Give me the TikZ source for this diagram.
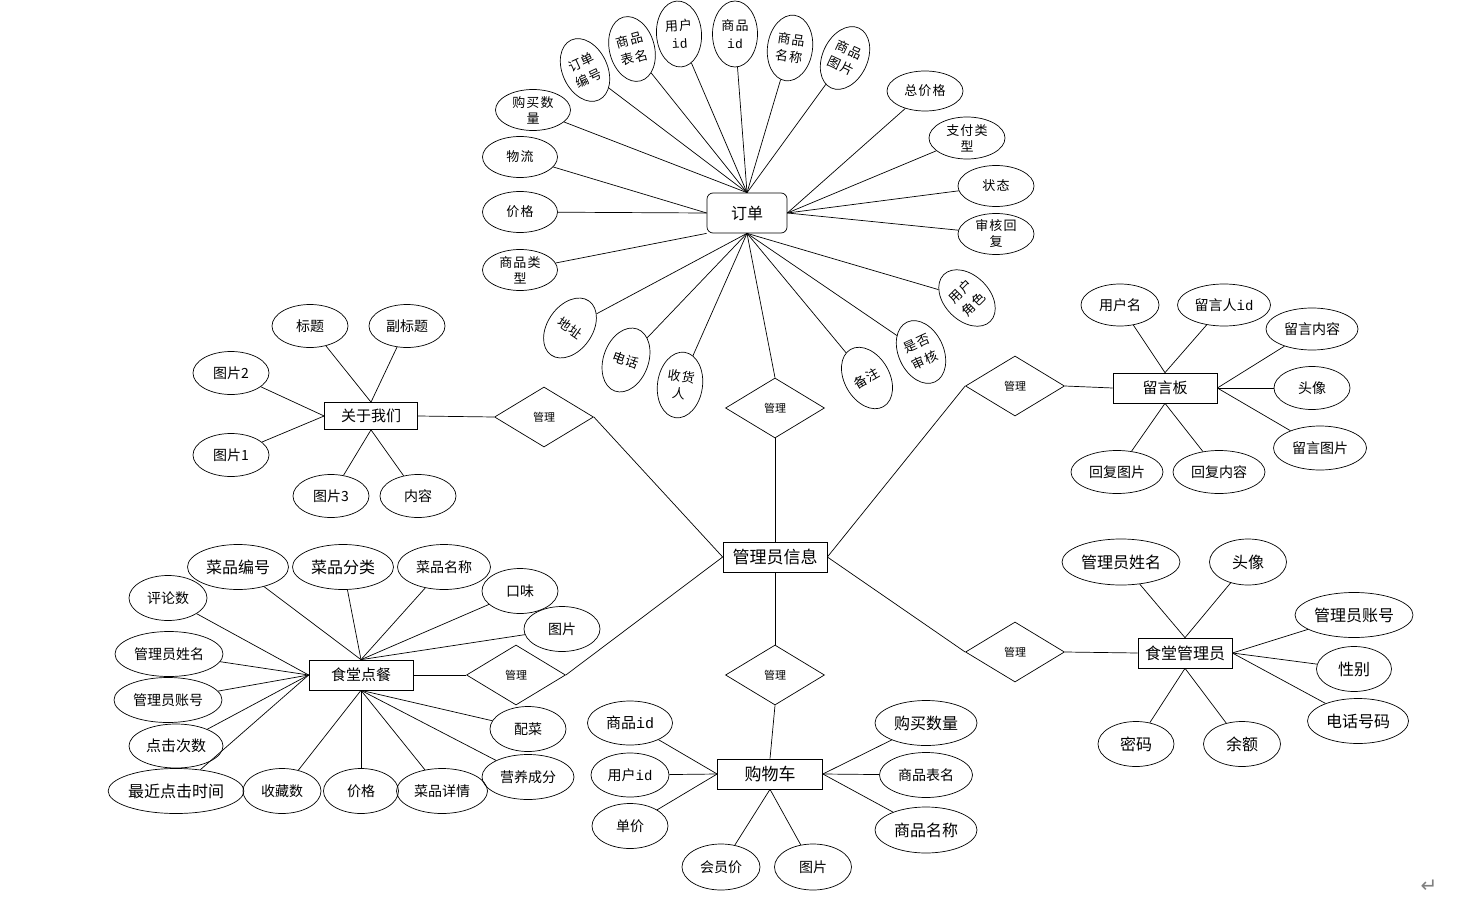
\documentclass[tikz,border=0pt]{standalone}
\usepackage{fontspec}
\setmainfont{Noto Sans CJK SC}
\setmonofont{Liberation Mono}
\newfontfamily\symfont{DejaVu Sans}
\usetikzlibrary{shapes.geometric}
\newcommand{\idtxt}{{\ttfamily id}}
\begin{document}
\begin{tikzpicture}[x=1pt, y=-1pt, line width=0.7pt,
		attr/.style = {ellipse, draw, inner sep=0pt, align=center,
			minimum width=76pt, minimum height=44pt,
			font=\fontsize{14}{16}\selectfont},
		big/.style = {font=\fontsize{16}{18}\selectfont},
		small/.style = {font=\fontsize{13}{16}\selectfont\addfontfeatures{LetterSpace=8}},
		tilt/.style = {attr, small, minimum width=45pt, minimum height=66pt,
			font=\fontsize{13}{18}\selectfont\addfontfeatures{LetterSpace=8}},
		entity/.style = {rectangle, draw, minimum height=30pt,
			font=\fontsize{15}{17}\selectfont},
		rel/.style = {diamond, draw, inner sep=0pt,
			minimum width=99pt, minimum height=60pt,
			font=\fontsize{11}{12}\selectfont}]
	\useasboundingbox (0,0) rectangle (1467,912);

	% entities
	\node[entity, rounded corners=6pt, minimum width=80pt, minimum height=40pt, big] (ord) at (747,213) {订单};
	\node[entity, minimum width=93pt, minimum height=27pt] (about) at (371,416) {关于我们};
	\node[entity, minimum width=104pt] (msg) at (1165,388) {留言板};
	\node[entity, minimum width=104pt, font=\fontsize{17}{19}\selectfont] (adm) at (775,557) {管理员信息};
	\node[entity, minimum width=104pt] (can) at (361,675) {食堂点餐};
	\node[entity, minimum width=105pt, font=\fontsize{17}{19}\selectfont] (cart) at (770,774) {购物车};
	\node[entity, minimum width=94pt, big] (cadm) at (1185,653) {食堂管理员};

	% relations
	\node[rel] (rAbout) at (544,417) {管理};
	\node[rel] (rOrd) at (775,408) {管理};
	\node[rel] (rMsg) at (1015,386) {管理};
	\node[rel] (rCan) at (516,675) {管理};
	\node[rel] (rCart) at (775,675) {管理};
	\node[rel] (rCadm) at (1015,652) {管理};

	% order attributes
	\node[attr, small, minimum width=75pt, minimum height=41pt] (oBuy) at (533,110) {购买数\\量};
	\node[attr, small, minimum width=75pt, minimum height=41pt] (oLogi) at (520,157) {物流};
	\node[attr, small, minimum width=75pt, minimum height=41pt] (oPrice) at (520,212) {价格};
	\node[attr, small, minimum width=75pt, minimum height=41pt] (oType) at (520,270) {商品类\\型};
	\node[tilt, rotate=25] (oNo) at (585,70) {订单\\编号};
	\node[tilt, rotate=15] (oTab) at (632,49) {商品\\表名};
	\node[tilt, rotate=4] (oUid) at (679,34) {用户\\\idtxt};
	\node[tilt] (oGid) at (735,34) {商品\\\idtxt};
	\node[tilt, rotate=-8] (oGname) at (790,48) {商品\\名称};
	\node[tilt, rotate=-25] (oGpic) at (845,58) {商品\\图片};
	\node[attr, small, minimum width=76pt, minimum height=40pt] (oTotal) at (925,91) {总价格};
	\node[attr, small, minimum width=76pt, minimum height=42pt] (oPay) at (967,138) {支付类\\型};
	\node[attr, small, minimum width=76pt, minimum height=41pt] (oState) at (996,186) {状态};
	\node[attr, small, minimum width=76pt, minimum height=41pt] (oAudit) at (996,234) {审核回\\复};
	\node[tilt, rotate=45] (oRole) at (967,298) {用户\\角色};
	\node[tilt, rotate=25] (oRev) at (921,352) {是否\\审核};
	\node[tilt, rotate=30] (oNote) at (867,378) {备注};
	\node[tilt, rotate=-35] (oAddr) at (570,328) {地址};
	\node[tilt, rotate=-20] (oTel) at (626,360) {电话};
	\node[tilt, rotate=-8] (oRecv) at (680,385) {收货\\人};

	% about attributes
	\node[attr, minimum height=43pt] (aTitle) at (310,326) {标题};
	\node[attr, minimum height=43pt] (aSub) at (407,326) {副标题};
	\node[attr, minimum height=43pt] (aPic2) at (231,373) {图片2};
	\node[attr, minimum height=43pt] (aPic1) at (231,455) {图片1};
	\node[attr, minimum height=43pt] (aPic3) at (331,496) {图片3};
	\node[attr, minimum height=43pt] (aText) at (418,496) {内容};

	% message board attributes
	\node[attr, minimum width=78pt, minimum height=42pt] (mUser) at (1120,305) {用户名};
	\node[attr, minimum width=93pt, minimum height=42pt] (mUid) at (1224,305) {留言人\idtxt};
	\node[attr, minimum width=92pt, minimum height=42pt] (mText) at (1312,329) {留言内容};
	\node[attr, minimum height=43pt] (mHead) at (1312,388) {头像};
	\node[attr, minimum width=93pt] (mPic) at (1320,448) {留言图片};
	\node[attr, minimum width=92pt, minimum height=43pt] (mRpic) at (1117,472) {回复图片};
	\node[attr, minimum width=92pt, minimum height=43pt] (mRtext) at (1219,472) {回复内容};

	% canteen ordering attributes
	\node[attr, big, minimum width=101pt, minimum height=45pt] (cNo) at (238,567) {菜品编号};
	\node[attr, big, minimum width=101pt, minimum height=45pt] (cCls) at (343,567) {菜品分类};
	\node[attr, minimum width=93pt, minimum height=45pt] (cName) at (444,567) {菜品名称};
	\node[attr, minimum height=45pt] (cTaste) at (520,591) {口味};
	\node[attr, minimum height=45pt] (cPic) at (562,629) {图片};
	\node[attr, minimum width=78pt, minimum height=45pt] (cCom) at (168,598) {评论数};
	\node[attr, minimum width=108pt, minimum height=45pt] (cAname) at (169,654) {管理员姓名};
	\node[attr, minimum width=108pt, minimum height=45pt] (cAacc) at (168,700) {管理员账号};
	\node[attr, minimum width=94pt, font=\fontsize{15}{17}\selectfont] (cClick) at (176,746) {点击次数};
	\node[attr, big, minimum width=135pt, minimum height=45pt] (cLast) at (176,791) {最近点击时间};
	\node[attr, minimum width=78pt, minimum height=45pt] (cFav) at (282,791) {收藏数};
	\node[attr, minimum width=75pt, minimum height=45pt] (cPrice) at (361,791) {价格};
	\node[attr, minimum width=91pt, minimum height=45pt] (cInfo) at (442,791) {菜品详情};
	\node[attr, minimum width=92pt, minimum height=45pt] (cNut) at (528,777) {营养成分};
	\node[attr, minimum height=45pt] (cSide) at (528,729) {配菜};

	% cart attributes
	\node[attr, minimum width=85pt, font=\fontsize{15}{17}\selectfont] (kGid) at (630,723) {商品\idtxt};
	\node[attr, minimum width=78pt] (kUid) at (630,775) {用户\idtxt};
	\node[attr, minimum height=45pt] (kUnit) at (630,826) {单价};
	\node[attr, minimum width=78pt, minimum height=46pt] (kVip) at (721,867) {会员价};
	\node[attr, minimum width=77pt, minimum height=46pt] (kPic) at (813,867) {图片};
	\node[attr, big, minimum width=102pt, minimum height=45pt] (kNum) at (926,723) {购买数量};
	\node[attr, minimum width=93pt, minimum height=45pt] (kTab) at (926,775) {商品表名};
	\node[attr, big, minimum width=102pt, minimum height=46pt] (kName) at (926,830) {商品名称};

	% canteen admin attributes
	\node[attr, big, minimum width=118pt, minimum height=46pt] (dName) at (1121,562) {管理员姓名};
	\node[attr, big, minimum width=77pt, minimum height=46pt] (dHead) at (1248,562) {头像};
	\node[attr, big, minimum width=118pt, minimum height=45pt] (dAcc) at (1354,615) {管理员账号};
	\node[attr, big, minimum width=75pt, minimum height=45pt] (dSex) at (1354,669) {性别};
	\node[attr, big, minimum width=101pt, minimum height=45pt] (dTel) at (1358,721) {电话号码};
	\node[attr, big, minimum width=76pt, minimum height=45pt] (dPwd) at (1136,744) {密码};
	\node[attr, big, minimum width=77pt, minimum height=45pt] (dBal) at (1242,744) {余额};

	\node[text=gray, font=\symfont\fontsize{20}{22}\selectfont] (ret) at (1429,886) {↵};

	% connectors
	\foreach \a in {oBuy,oNo,oTab,oUid,oGid,oGname,oGpic}
		\draw (\a) -- (ord.north);
	\foreach \a in {oTotal,oPay,oState,oAudit}
		\draw (\a) -- (ord.east);
	\foreach \a in {oLogi,oPrice}
		\draw (\a) -- (ord.west);
	\draw (oType) -- (ord.south west);
	\foreach \a in {oAddr,oTel,oRecv,oNote,oRev,oRole}
		\draw (\a) -- (ord.south);
	\draw (rOrd.north) -- (ord.south);

	\foreach \a in {aTitle,aSub}
		\draw (\a) -- (about.north);
	\foreach \a in {aPic2,aPic1}
		\draw (\a) -- (about.west);
	\foreach \a in {aPic3,aText}
		\draw (\a) -- (about.south);

	\foreach \a in {mUser,mUid}
		\draw (\a) -- (msg.north);
	\foreach \a in {mText,mHead,mPic}
		\draw (\a) -- (msg.east);
	\foreach \a in {mRpic,mRtext}
		\draw (\a) -- (msg.south);

	\foreach \a in {cNo,cCls,cName,cTaste,cPic}
		\draw (\a) -- (can.north);
	\foreach \a in {cCom,cAname,cAacc,cClick,cLast}
		\draw (\a) -- (can.west);
	\foreach \a in {cFav,cPrice,cInfo,cNut,cSide}
		\draw (\a) -- (can.south);

	\foreach \a in {kGid,kUid,kUnit}
		\draw (\a) -- (cart.west);
	\foreach \a in {kNum,kTab,kName}
		\draw (\a) -- (cart.east);
	\foreach \a in {kVip,kPic}
		\draw (\a) -- (cart.south);

	\foreach \a in {dName,dHead}
		\draw (\a) -- (cadm.north);
	\foreach \a in {dAcc,dSex,dTel}
		\draw (\a) -- (cadm.east);
	\foreach \a in {dPwd,dBal}
		\draw (\a) -- (cadm.south);

	% relations to entities
	\draw (about.east) -- (rAbout.west);
	\draw (rAbout.east) -- (adm.west);
	\draw (rOrd.south) -- (adm.north);
	\draw (rMsg.west) -- (adm.east);
	\draw (rMsg.east) -- (msg.west);
	\draw (can.east) -- (rCan.west);
	\draw (rCan.east) -- (adm.west);
	\draw (adm.south) -- (rCart.north);
	\draw (rCart.south) -- (cart.north);
	\draw (rCadm.west) -- (adm.east);
	\draw (rCadm.east) -- (cadm.west);
\end{tikzpicture}
\end{document}
